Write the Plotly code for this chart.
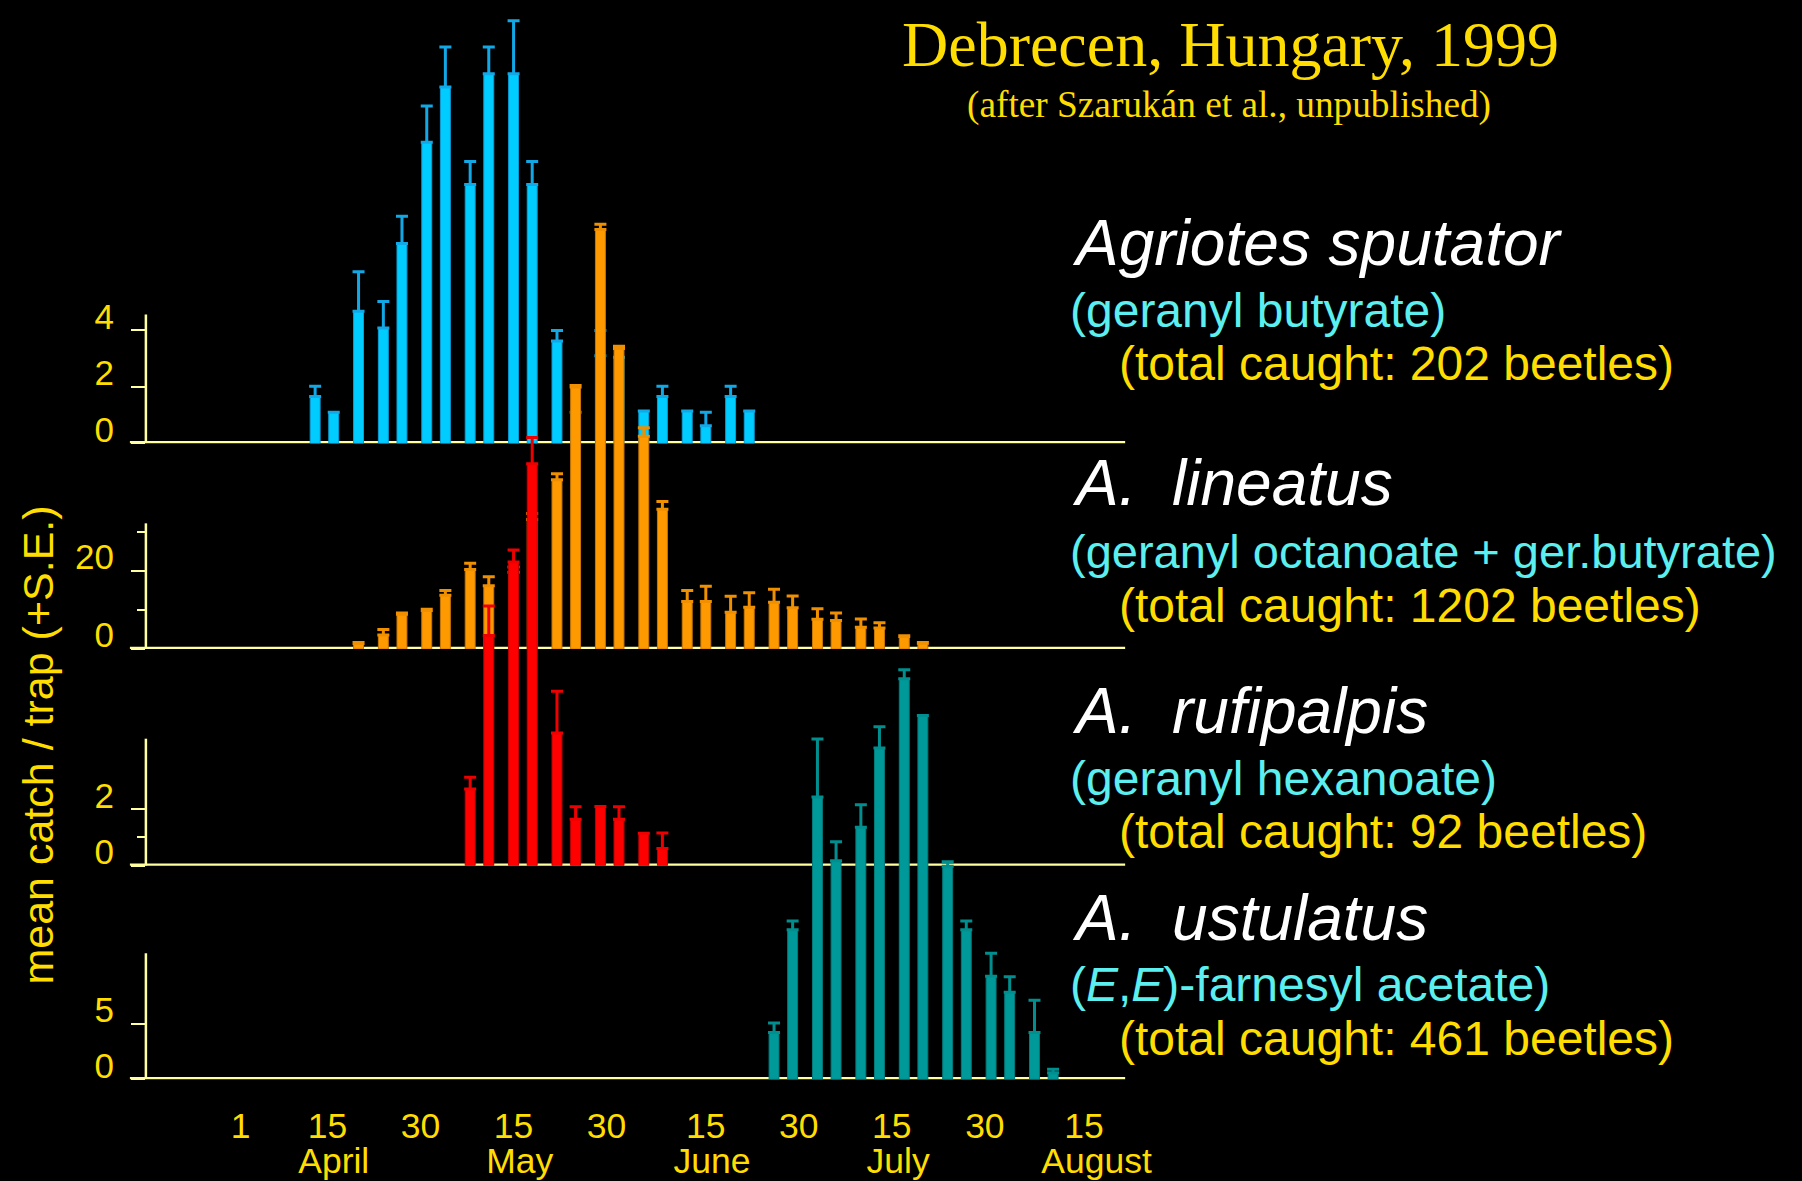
import plotly.graph_objects as go
import pandas as pd

# ---------------- data ----------------
sputator_dates = ["1999-04-13", "1999-04-16", "1999-04-20", "1999-04-24", "1999-04-27",
                  "1999-05-01", "1999-05-04", "1999-05-08", "1999-05-11", "1999-05-15",
                  "1999-05-18", "1999-05-22", "1999-05-25", "1999-05-29", "1999-06-01",
                  "1999-06-05", "1999-06-08", "1999-06-12", "1999-06-15", "1999-06-19",
                  "1999-06-22"]
sputator_mean = [1.66, 1.1, 4.68, 4.09, 7.08, 10.67, 12.63, 9.17, 13.1, 13.1,
                 9.17, 3.63, 1.1, 3.1, 3.05, 1.15, 1.66, 1.15, 0.62, 1.66, 1.15]
sputator_se = [0.36, 0.0, 1.4, 0.94, 0.97, 1.28, 1.41, 0.82, 0.94, 1.87,
               0.82, 0.37, 0.0, 0.9, 0.0, 0.0, 0.36, 0.0, 0.48, 0.36, 0.0]

lineatus_dates = ["1999-04-20", "1999-04-24", "1999-04-27", "1999-05-01", "1999-05-04",
                  "1999-05-08", "1999-05-11", "1999-05-15", "1999-05-18", "1999-05-22",
                  "1999-05-25", "1999-05-29", "1999-06-01", "1999-06-05", "1999-06-08",
                  "1999-06-12", "1999-06-15", "1999-06-19", "1999-06-22", "1999-06-26",
                  "1999-06-29", "1999-07-03", "1999-07-06", "1999-07-10", "1999-07-13",
                  "1999-07-17", "1999-07-20"]
lineatus_mean = [1.4, 3.6, 8.9, 9.9, 13.8, 20.4, 16.2, 19.7, 33.2, 43.4,
                 67.1, 107.5, 77.0, 54.5, 35.8, 12.2, 12.2, 9.4, 10.7, 12.0,
                 10.6, 7.6, 7.3, 5.6, 5.4, 3.2, 1.5]
lineatus_se = [0.3, 1.4, 0.3, 0.3, 1.2, 1.6, 2.3, 1.3, 1.5, 1.5,
               0.4, 1.3, 0.6, 2.2, 2.0, 2.8, 3.9, 4.1, 3.7, 3.3,
               3.0, 2.7, 1.9, 2.1, 1.3, 0.2, 0.2]

rufipalpis_dates = ["1999-05-08", "1999-05-11", "1999-05-15", "1999-05-18", "1999-05-22",
                    "1999-05-25", "1999-05-29", "1999-06-01", "1999-06-05", "1999-06-08"]
rufipalpis_mean = [2.72, 8.16, 10.76, 14.24, 4.7, 1.65, 2.1, 1.65, 1.15, 0.61]
rufipalpis_se = [0.41, 1.04, 0.43, 0.93, 1.48, 0.44, 0.0, 0.44, 0.0, 0.55]

ustulatus_dates = ["1999-06-26", "1999-06-29", "1999-07-03", "1999-07-06", "1999-07-10",
                   "1999-07-13", "1999-07-17", "1999-07-20", "1999-07-24", "1999-07-27",
                   "1999-07-31", "1999-08-03", "1999-08-07", "1999-08-10"]
ustulatus_mean = [4.2, 13.4, 25.3, 19.6, 22.6, 29.7, 35.9, 32.6, 19.1, 13.4, 9.25, 7.8, 4.2, 0.6]
ustulatus_se = [0.85, 0.8, 5.2, 1.7, 2.0, 1.9, 0.8, 0.0, 0.4, 0.8, 2.05, 1.4, 2.9, 0.3]

day_tick_dates = ["1999-04-01", "1999-04-15", "1999-04-30", "1999-05-15", "1999-05-30",
                  "1999-06-15", "1999-06-30", "1999-07-15", "1999-07-30", "1999-08-15"]
day_tick_labels = ["1", "15", "30", "15", "30", "15", "30", "15", "30", "15"]
month_dates = ["1999-04-16", "1999-05-16", "1999-06-16", "1999-07-16", "1999-08-17"]
month_labels = ["April", "May", "June", "July", "August"]

species = ["<i>Agriotes sputator</i>", "<i>A.\u00a0\u00a0lineatus</i>",
           "<i>A.\u00a0\u00a0rufipalpis</i>", "<i>A.\u00a0\u00a0ustulatus</i>"]
lures = ["(geranyl butyrate)", "(geranyl octanoate + ger.butyrate)",
         "(geranyl hexanoate)", "(<i>E</i>,<i>E</i>)-farnesyl acetate)"]
totals = ["(total caught: 202 beetles)", "(total caught: 1202 beetles)",
          "(total caught: 92 beetles)", "(total caught: 461 beetles)"]

# ---------------- layout constants ----------------
# Positions are written in reference pixels (1802 x 1181). The photographed page
# comes out slightly shrunk (about 1827 x 1189 captured into 1802 x 1181), so the
# positions are stretched by KX / KY to land on the reference spots.
FIG_W, FIG_H = 1802, 1181
KX, KY = 1827 / 1802, 1189 / 1181


def px_x(p):
    return p * KX / FIG_W


def px_y(p):
    return 1 - p * KY / FIG_H


SANS = "Liberation Sans, Arial, sans-serif"
SERIF = "Liberation Serif, Times New Roman, serif"
YELLOW = "#FFDD00"
AQUA = "#5BEFEF"
PALE = "#FFFFA0"

X_LEFT, X_RIGHT = 146, 1126          # pixel extent of the plotting area
DAY0_PX, PX_PER_DAY = 234.7, 6.206   # pixel of 31 March and pixels per day
origin = pd.Timestamp("1999-03-31")
x_range = [str(origin + pd.Timedelta(days=(X_LEFT - DAY0_PX) / PX_PER_DAY)),
           str(origin + pd.Timedelta(days=(X_RIGHT - DAY0_PX) / PX_PER_DAY))]

panels = [
    dict(dates=sputator_dates, mean=sputator_mean, se=sputator_se,
         color="#00CCFF", edge="#0A9ED6", err="#12A8E6",
         base_px=443.0, unit=28.2, ticks=[0, 2, 4], labels=["0", "2", "4"], minor=[],
         top=4.57, text_y=[243, 310.6, 363.4], lure_size=48),
    dict(dates=lineatus_dates, mean=lineatus_mean, se=lineatus_se,
         color="#FF9900", edge="#C87800", err="#F09000",
         base_px=648.5, unit=3.9, ticks=[0, 20], labels=["0", "20"], minor=[10, 30],
         top=32.2, text_y=[483, 550.8, 604.8], lure_size=47),
    dict(dates=rufipalpis_dates, mean=rufipalpis_mean, se=rufipalpis_se,
         color="#FF0000", edge="#C00000", err="#EE0000",
         base_px=865.0, unit=28.2, ticks=[0, 2], labels=["0", "2"], minor=[1],
         top=4.5, text_y=[710.5, 778.3, 831.2], lure_size=48),
    dict(dates=ustulatus_dates, mean=ustulatus_mean, se=ustulatus_se,
         color="#009999", edge="#007A7A", err="#008E8E",
         base_px=1078.5, unit=11.15, ticks=[0, 5], labels=["0", "5"], minor=[],
         top=11.3, text_y=[917, 984, 1038], lure_size=48),
]

fig = go.Figure()
shapes = []
annotations = []
bar_w = 1.6 * 86400000

for i, p in enumerate(panels, start=1):
    ya = "y" if i == 1 else f"y{i}"
    fig.add_trace(go.Bar(
        x=p["dates"], y=p["mean"], xaxis="x", yaxis=ya, width=bar_w,
        marker=dict(color=p["color"], line=dict(color=p["edge"], width=1)),
        error_y=dict(type="data", symmetric=False, array=p["se"],
                     arrayminus=[0] * len(p["se"]), color=p["err"], thickness=3, width=6),
        showlegend=False, hoverinfo="x+y"))
    key = "yaxis" if i == 1 else f"yaxis{i}"
    fig.layout[key] = dict(
        domain=[px_y(p["base_px"]), 1], range=[0, p["base_px"] / p["unit"]],
        anchor="x", showgrid=False, zeroline=False, showline=False,
        ticks="outside", ticklen=14, tickwidth=2, tickcolor=PALE,
        tickvals=p["ticks"], ticktext=p["labels"],
        tickfont=dict(family=SANS, size=35, color=YELLOW),
        ticklabelstandoff=10, ticklabelshift=-14,
        minor=dict(tickvals=p["minor"], ticks="outside", ticklen=8, tickwidth=2,
                   tickcolor=PALE, showgrid=False),
    )
    # vertical axis line (short) and horizontal baseline
    shapes.append(dict(type="line", xref="paper", yref=ya, x0=px_x(X_LEFT), x1=px_x(X_LEFT),
                       y0=0, y1=p["top"], line=dict(color=PALE, width=2.5), layer="below"))
    shapes.append(dict(type="line", xref="paper", yref=ya, x0=px_x(130), x1=px_x(X_RIGHT),
                       y0=0, y1=0, line=dict(color=PALE, width=4.5), layer="below"))
    ty = p["text_y"]
    annotations.append(dict(text=species[i - 1], xref="paper", yref="paper",
                            x=px_x(1070.6), y=px_y(ty[0]), xanchor="left", yanchor="middle",
                            showarrow=False, font=dict(family=SANS, size=64, color="white")))
    annotations.append(dict(text=lures[i - 1], xref="paper", yref="paper",
                            x=px_x(1068.5), y=px_y(ty[1]), xanchor="left", yanchor="middle",
                            showarrow=False,
                            font=dict(family=SANS, size=p["lure_size"], color=AQUA)))
    annotations.append(dict(text=totals[i - 1], xref="paper", yref="paper",
                            x=px_x(1118), y=px_y(ty[2]), xanchor="left", yanchor="middle",
                            showarrow=False, font=dict(family=SANS, size=48, color=YELLOW)))

# invisible helper trace so the month-label axis is drawn
fig.add_trace(go.Scatter(x=month_dates, y=[0] * len(month_dates), xaxis="x2", yaxis="y4",
                         mode="markers", marker=dict(opacity=0), hoverinfo="skip",
                         showlegend=False))

annotations.append(dict(text="Debrecen, Hungary, 1999", xref="paper", yref="paper",
                        x=px_x(1231), y=px_y(44), xanchor="center", yanchor="middle",
                        showarrow=False, font=dict(family=SERIF, size=64, color=YELLOW)))
annotations.append(dict(text="(after Szarukán et al., unpublished)", xref="paper", yref="paper",
                        x=px_x(1230), y=px_y(105), xanchor="center", yanchor="middle",
                        showarrow=False, font=dict(family=SERIF, size=37.3, color=YELLOW)))
annotations.append(dict(text="mean catch / trap (+S.E.)", xref="paper", yref="paper",
                        x=px_x(38), y=px_y(744), xanchor="center", yanchor="middle",
                        textangle=-90, showarrow=False,
                        font=dict(family=SANS, size=43, color=YELLOW)))

fig.update_layout(
    width=FIG_W, height=FIG_H, autosize=False, margin=dict(l=0, r=0, t=0, b=0, pad=0),
    paper_bgcolor="black", plot_bgcolor="rgba(0,0,0,0)",
    barmode="overlay", showlegend=False,
    xaxis=dict(domain=[px_x(X_LEFT), px_x(X_RIGHT)], range=x_range, type="date", anchor="y4",
               showgrid=False, zeroline=False, showline=False, ticks="",
               tickvals=day_tick_dates, ticktext=day_tick_labels,
               tickfont=dict(family=SANS, size=35.5, color=YELLOW), ticklabelstandoff=22),
    xaxis2=dict(overlaying="x", anchor="y4", side="bottom", range=x_range, type="date",
                showgrid=False, zeroline=False, showline=False, ticks="",
                tickvals=month_dates, ticktext=month_labels,
                tickfont=dict(family=SANS, size=35.5, color=YELLOW), ticklabelstandoff=57),
    shapes=shapes, annotations=annotations,
)

page_js = ("document.documentElement.style.background='black';"
           "document.body.style.background='black';"
           "document.body.style.margin='0';document.body.style.padding='0';"
           "document.body.style.overflow='hidden';"
           "document.documentElement.style.overflow='hidden';")
fig.write_html("out.html", post_script=page_js,
               config=dict(displayModeBar=False, responsive=False))
